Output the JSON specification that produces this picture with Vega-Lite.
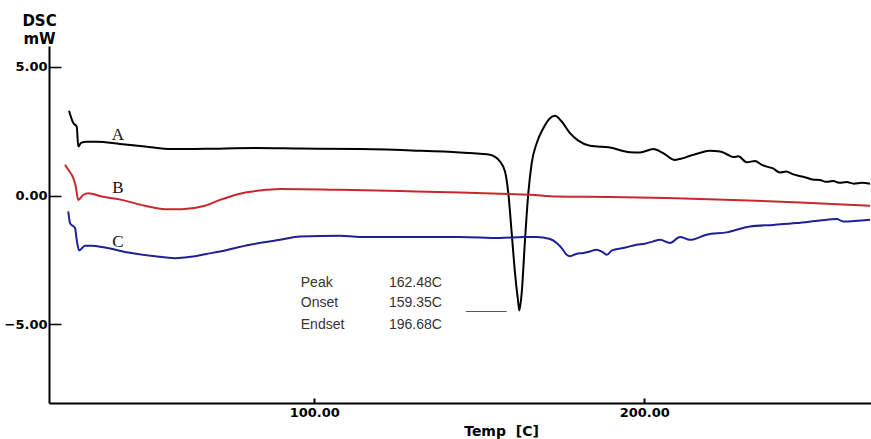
{
  "$schema": "https://vega.github.io/schema/vega-lite/v6.json",
  "width": 822,
  "height": 357,
  "autosize": "none",
  "padding": {"left": 49, "top": 46, "right": 0, "bottom": 36},
  "background": "white",
  "config": {"view": {"stroke": null}},
  "datasets": {
    "curves": [
      {"T": 25.67, "V": 3.29, "s": "A"}, {"T": 26.97, "V": 2.81, "s": "A"}, {"T": 28.0, "V": 2.67, "s": "A"}, {"T": 28.48, "V": 1.9, "s": "A"}, {"T": 29.3, "V": 2.04, "s": "A"}, {"T": 31.03, "V": 2.09, "s": "A"}, {"T": 34.06, "V": 2.09, "s": "A"}, {"T": 41.12, "V": 2.0, "s": "A"}, {"T": 48.7, "V": 1.9, "s": "A"}, {"T": 56.8, "V": 1.8, "s": "A"}, {"T": 66.88, "V": 1.81, "s": "A"}, {"T": 82.03, "V": 1.84, "s": "A"}, {"T": 95.67, "V": 1.82, "s": "A"}, {"T": 113.85, "V": 1.8, "s": "A"}, {"T": 131.03, "V": 1.74, "s": "A"}, {"T": 144.15, "V": 1.67, "s": "A"}, {"T": 150.21, "V": 1.62, "s": "A"}, {"T": 153.24, "V": 1.58, "s": "A"}, {"T": 156.27, "V": 1.32, "s": "A"}, {"T": 157.79, "V": 0.93, "s": "A"}, {"T": 158.79, "V": 0.09, "s": "A"}, {"T": 159.82, "V": -1.46, "s": "A"}, {"T": 160.82, "V": -3.01, "s": "A"}, {"T": 161.82, "V": -4.17, "s": "A"}, {"T": 162.12, "V": -4.46, "s": "A"}, {"T": 162.85, "V": -3.78, "s": "A"}, {"T": 163.85, "V": -1.72, "s": "A"}, {"T": 164.85, "V": 0.09, "s": "A"}, {"T": 165.88, "V": 1.26, "s": "A"}, {"T": 167.39, "V": 2.03, "s": "A"}, {"T": 169.39, "V": 2.61, "s": "A"}, {"T": 171.42, "V": 3.0, "s": "A"}, {"T": 172.94, "V": 3.09, "s": "A"}, {"T": 174.97, "V": 2.87, "s": "A"}, {"T": 177.48, "V": 2.42, "s": "A"}, {"T": 180.0, "V": 2.13, "s": "A"}, {"T": 183.55, "V": 1.93, "s": "A"}, {"T": 189.6, "V": 1.86, "s": "A"}, {"T": 195.67, "V": 1.68, "s": "A"}, {"T": 198.7, "V": 1.67, "s": "A"}, {"T": 202.73, "V": 1.8, "s": "A"}, {"T": 205.76, "V": 1.64, "s": "A"}, {"T": 209.3, "V": 1.38, "s": "A"}, {"T": 211.5, "V": 1.44, "s": "A"}, {"T": 213.85, "V": 1.54, "s": "A"}, {"T": 217.0, "V": 1.66, "s": "A"}, {"T": 219.9, "V": 1.74, "s": "A"}, {"T": 222.94, "V": 1.71, "s": "A"}, {"T": 225.0, "V": 1.6, "s": "A"}, {"T": 226.97, "V": 1.49, "s": "A"}, {"T": 228.5, "V": 1.52, "s": "A"}, {"T": 231.03, "V": 1.29, "s": "A"}, {"T": 233.55, "V": 1.34, "s": "A"}, {"T": 235.5, "V": 1.2, "s": "A"}, {"T": 237.09, "V": 1.12, "s": "A"}, {"T": 239.0, "V": 1.05, "s": "A"}, {"T": 241.12, "V": 0.89, "s": "A"}, {"T": 243.0, "V": 0.93, "s": "A"}, {"T": 245.15, "V": 0.82, "s": "A"}, {"T": 247.0, "V": 0.76, "s": "A"}, {"T": 249.2, "V": 0.69, "s": "A"}, {"T": 251.0, "V": 0.62, "s": "A"}, {"T": 253.24, "V": 0.6, "s": "A"}, {"T": 255.0, "V": 0.53, "s": "A"}, {"T": 257.27, "V": 0.56, "s": "A"}, {"T": 259.0, "V": 0.49, "s": "A"}, {"T": 261.33, "V": 0.52, "s": "A"}, {"T": 263.5, "V": 0.46, "s": "A"}, {"T": 266.0, "V": 0.49, "s": "A"}, {"T": 268.4, "V": 0.46, "s": "A"},
      {"T": 24.45, "V": 1.19, "s": "B"}, {"T": 25.45, "V": 1.0, "s": "B"}, {"T": 26.97, "V": 0.67, "s": "B"}, {"T": 27.7, "V": 0.35, "s": "B"}, {"T": 28.48, "V": -0.17, "s": "B"}, {"T": 30.0, "V": 0.03, "s": "B"}, {"T": 31.52, "V": 0.09, "s": "B"}, {"T": 35.58, "V": -0.04, "s": "B"}, {"T": 41.64, "V": -0.17, "s": "B"}, {"T": 48.7, "V": -0.4, "s": "B"}, {"T": 54.76, "V": -0.53, "s": "B"}, {"T": 59.82, "V": -0.53, "s": "B"}, {"T": 66.88, "V": -0.4, "s": "B"}, {"T": 71.42, "V": -0.17, "s": "B"}, {"T": 77.48, "V": 0.07, "s": "B"}, {"T": 83.55, "V": 0.19, "s": "B"}, {"T": 89.61, "V": 0.25, "s": "B"}, {"T": 107.79, "V": 0.22, "s": "B"}, {"T": 125.97, "V": 0.17, "s": "B"}, {"T": 144.15, "V": 0.12, "s": "B"}, {"T": 156.27, "V": 0.07, "s": "B"}, {"T": 165.36, "V": 0.03, "s": "B"}, {"T": 173.45, "V": -0.04, "s": "B"}, {"T": 189.6, "V": -0.06, "s": "B"}, {"T": 206.79, "V": -0.1, "s": "B"}, {"T": 226.97, "V": -0.17, "s": "B"}, {"T": 247.18, "V": -0.27, "s": "B"}, {"T": 268.4, "V": -0.4, "s": "B"},
      {"T": 25.45, "V": -0.62, "s": "C"}, {"T": 25.97, "V": -1.07, "s": "C"}, {"T": 27.48, "V": -1.26, "s": "C"}, {"T": 28.0, "V": -1.72, "s": "C"}, {"T": 28.7, "V": -2.13, "s": "C"}, {"T": 30.52, "V": -1.95, "s": "C"}, {"T": 32.55, "V": -1.95, "s": "C"}, {"T": 36.58, "V": -2.02, "s": "C"}, {"T": 43.64, "V": -2.21, "s": "C"}, {"T": 51.73, "V": -2.36, "s": "C"}, {"T": 57.79, "V": -2.43, "s": "C"}, {"T": 63.85, "V": -2.36, "s": "C"}, {"T": 66.88, "V": -2.28, "s": "C"}, {"T": 71.42, "V": -2.17, "s": "C"}, {"T": 80.52, "V": -1.91, "s": "C"}, {"T": 89.61, "V": -1.72, "s": "C"}, {"T": 95.67, "V": -1.59, "s": "C"}, {"T": 107.79, "V": -1.56, "s": "C"}, {"T": 113.85, "V": -1.61, "s": "C"}, {"T": 132.03, "V": -1.61, "s": "C"}, {"T": 144.15, "V": -1.61, "s": "C"}, {"T": 156.27, "V": -1.65, "s": "C"}, {"T": 163.33, "V": -1.61, "s": "C"}, {"T": 167.39, "V": -1.61, "s": "C"}, {"T": 171.42, "V": -1.69, "s": "C"}, {"T": 173.45, "V": -1.84, "s": "C"}, {"T": 174.97, "V": -2.04, "s": "C"}, {"T": 176.48, "V": -2.3, "s": "C"}, {"T": 177.48, "V": -2.36, "s": "C"}, {"T": 179.52, "V": -2.26, "s": "C"}, {"T": 181.52, "V": -2.23, "s": "C"}, {"T": 183.55, "V": -2.17, "s": "C"}, {"T": 185.58, "V": -2.1, "s": "C"}, {"T": 187.18, "V": -2.18, "s": "C"}, {"T": 188.6, "V": -2.3, "s": "C"}, {"T": 190.21, "V": -2.13, "s": "C"}, {"T": 193.64, "V": -2.04, "s": "C"}, {"T": 197.7, "V": -1.91, "s": "C"}, {"T": 200.2, "V": -1.87, "s": "C"}, {"T": 202.73, "V": -1.78, "s": "C"}, {"T": 204.76, "V": -1.72, "s": "C"}, {"T": 207.79, "V": -1.84, "s": "C"}, {"T": 210.82, "V": -1.61, "s": "C"}, {"T": 213.85, "V": -1.72, "s": "C"}, {"T": 218.91, "V": -1.52, "s": "C"}, {"T": 224.97, "V": -1.43, "s": "C"}, {"T": 232.03, "V": -1.2, "s": "C"}, {"T": 239.09, "V": -1.14, "s": "C"}, {"T": 246.18, "V": -1.07, "s": "C"}, {"T": 253.24, "V": -0.97, "s": "C"}, {"T": 258.3, "V": -0.91, "s": "C"}, {"T": 260.3, "V": -1.01, "s": "C"}, {"T": 268.4, "V": -0.94, "s": "C"}
    ],
    "curveLabels": [
      {"T": 40.5, "V": 2.35, "t": "A"},
      {"T": 40.5, "V": 0.3, "t": "B"},
      {"T": 40.5, "V": -1.79, "t": "C"}
    ],
    "notes": [
      {"T": 95.9, "V": -3.4, "t": "Peak"},
      {"T": 95.9, "V": -4.17, "t": "Onset"},
      {"T": 95.9, "V": -5.01, "t": "Endset"},
      {"T": 122.6, "V": -3.4, "t": "162.48C"},
      {"T": 122.6, "V": -4.17, "t": "159.35C"},
      {"T": 122.6, "V": -5.01, "t": "196.68C"}
    ],
    "marker": [
      {"T": 145.9, "V": -4.5},
      {"T": 158.3, "V": -4.5}
    ]
  },
  "layer": [
    {
      "data": {"name": "curves"},
      "mark": {"type": "line", "strokeWidth": 2, "interpolate": "monotone"},
      "encoding": {
        "x": {
          "field": "T", "type": "quantitative",
          "scale": {"domain": [19.6, 268.7], "nice": false, "zero": false},
          "axis": {
            "values": [100, 200], "format": ".2f", "grid": false,
            "domainColor": "black", "domainWidth": 2,
            "tickColor": "black", "tickWidth": 2, "tickSize": -5,
            "labelPadding": 8, "labelFont": "DejaVu Sans", "labelFontSize": 13, "labelFontWeight": "bold", "labelColor": "black",
            "title": "Temp\u00a0 [C]", "titleFont": "DejaVu Sans", "titleFontSize": 14, "titleFontWeight": "bold", "titleColor": "black",
            "titleX": 452, "titleY": 32, "titleAlign": "center", "titleBaseline": "alphabetic"
          }
        },
        "y": {
          "field": "V", "type": "quantitative",
          "scale": {"domain": [-8.05, 5.8], "nice": false, "zero": false},
          "axis": {
            "values": [-5, 0, 5], "format": ".2f", "grid": false,
            "domainColor": "black", "domainWidth": 2,
            "tickColor": "black", "tickWidth": 1.5, "tickSize": -12,
            "labelPadding": 14, "labelFont": "DejaVu Sans", "labelFontSize": 13, "labelFontWeight": "bold", "labelColor": "black",
            "title": ["DSC", "mW"], "titleAngle": 0, "titleX": -10, "titleY": -33, "titleAlign": "center", "titleBaseline": "top",
            "titleFont": "DejaVu Sans", "titleFontSize": 15, "titleFontWeight": "bold", "titleColor": "black", "titleLineHeight": 18
          }
        },
        "color": {
          "field": "s", "type": "nominal",
          "scale": {"domain": ["A", "B", "C"], "range": ["#000000", "#c8282d", "#1f1f96"]},
          "legend": null
        }
      }
    },
    {
      "data": {"name": "curveLabels"},
      "mark": {"type": "text", "font": "Liberation Serif", "fontSize": 17, "align": "center", "baseline": "middle", "color": "#111"},
      "encoding": {
        "x": {"field": "T", "type": "quantitative"},
        "y": {"field": "V", "type": "quantitative"},
        "text": {"field": "t"}
      }
    },
    {
      "data": {"name": "notes"},
      "mark": {"type": "text", "font": "Liberation Sans", "fontSize": 14, "align": "left", "baseline": "middle", "color": "#333"},
      "encoding": {
        "x": {"field": "T", "type": "quantitative"},
        "y": {"field": "V", "type": "quantitative"},
        "text": {"field": "t"}
      }
    },
    {
      "data": {"name": "marker"},
      "mark": {"type": "line", "strokeWidth": 1, "color": "#555"},
      "encoding": {
        "x": {"field": "T", "type": "quantitative"},
        "y": {"field": "V", "type": "quantitative"}
      }
    }
  ]
}
